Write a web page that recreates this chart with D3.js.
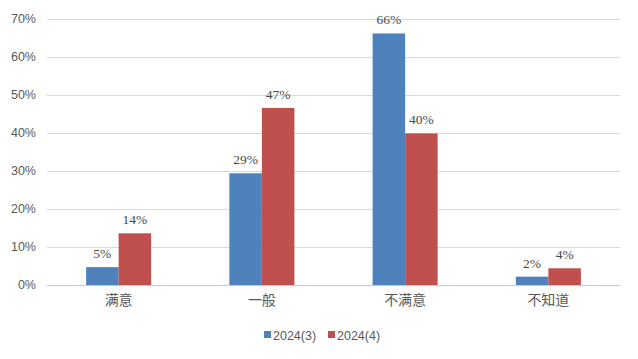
<!DOCTYPE html>
<html><head><meta charset="utf-8">
<script src="https://cdn.jsdelivr.net/npm/d3@7"></script>
<style>body{margin:0;background:#fff}svg{display:block}</style>
</head><body>
<svg id="c" width="638" height="359"></svg>
<script>
const categories = ["满意", "一般", "不满意", "不知道"];
const seriesNames = ["2024(3)", "2024(4)"];
const series3 = [4.7, 29.4, 66.2, 2.2];
const series4 = [13.6, 46.6, 39.9, 4.4];
const labels3 = ["5%", "29%", "66%", "2%"];
const labels4 = ["14%", "47%", "40%", "4%"];
const yTicks = [0, 10, 20, 30, 40, 50, 60, 70];
const colors = ["#4f81bd", "#c0504d"];

(function () {
const svg = d3.select("#c");
const mLeft = 47, mRight = 620, mTop = 19, mBottom = 285;
const x = d3.scaleBand().domain(categories).range([mLeft, mRight]);
const y = d3.scaleLinear().domain([0, 70]).range([mBottom, mTop]);
const barW = x.bandwidth() * 0.227;

svg.append("g").selectAll("line").data(yTicks).join("line")
  .attr("x1", mLeft).attr("x2", mRight)
  .attr("y1", d => y(d) + 0.5).attr("y2", d => y(d) + 0.5)
  .attr("stroke", d => d === 0 ? "#c8c8c8" : "#d9d9d9").attr("stroke-width", 1);

svg.append("g").selectAll("text").data(yTicks).join("text")
  .attr("x", 36).attr("y", d => y(d)).attr("dy", "0.35em")
  .attr("text-anchor", "end").attr("font-family", "Liberation Sans, Arial, sans-serif")
  .attr("font-size", 12.5).attr("fill", "#595959").text(d => d + "%");

const data = [series3, series4];
const labs = [labels3, labels4];
data.forEach((vals, si) => {
  const g = svg.append("g");
  g.selectAll("rect").data(vals).join("rect")
    .attr("x", (d, i) => x(categories[i]) + x.bandwidth() / 2 - barW + si * barW)
    .attr("width", barW)
    .attr("y", d => y(d)).attr("height", d => mBottom - y(d))
    .attr("fill", colors[si]);
  g.selectAll("text").data(vals).join("text")
    .attr("x", (d, i) => x(categories[i]) + x.bandwidth() / 2 - barW / 2 + si * barW)
    .attr("y", d => y(d) - 9)
    .attr("text-anchor", "middle")
    .attr("font-family", "Liberation Serif, serif").attr("font-size", 13.5)
    .attr("fill", "#4a4a4a").text((d, i) => labs[si][i]);
});

svg.append("g").selectAll("text").data(categories).join("text")
  .attr("x", d => x(d) + x.bandwidth() / 2).attr("y", 305)
  .attr("text-anchor", "middle").attr("font-family", "Noto Sans CJK SC, sans-serif")
  .attr("font-size", 14).attr("fill", "#595959").text(d => d);

const legendX = [264, 328];
seriesNames.forEach((n, i) => {
  svg.append("rect").attr("x", legendX[i]).attr("y", 331).attr("width", 7).attr("height", 7).attr("fill", colors[i]);
  svg.append("text").attr("x", legendX[i] + 9).attr("y", 339.5)
    .attr("font-family", "Liberation Sans, Arial, sans-serif").attr("font-size", 12.5)
    .attr("fill", "#595959").text(n);
});
})();
</script>
</body></html>
